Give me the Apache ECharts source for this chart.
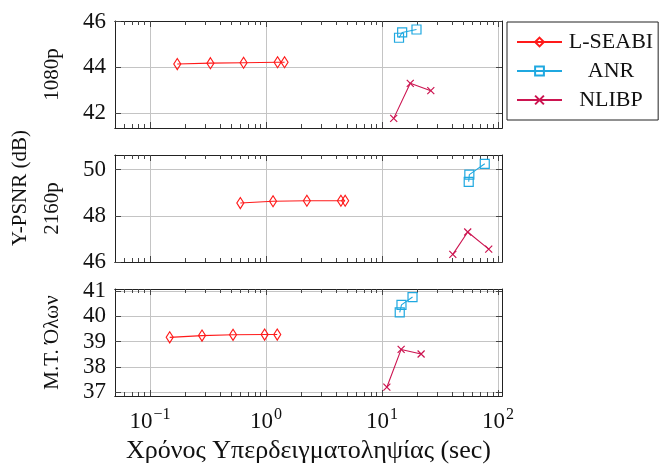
<!DOCTYPE html>
<html><head><meta charset="utf-8">
<script src="https://cdn.jsdelivr.net/npm/echarts@6/dist/echarts.min.js"></script>
<style>html,body{margin:0;padding:0;background:#fff}#c{width:659px;height:472px}</style>
</head><body><div id="c"></div>
<script>
// ---- data (time in sec, Y-PSNR in dB) ----
const seriesNames = ['L-SEABI', 'ANR', 'NLIBP'];
const panelNames = ['1080p', '2160p', 'M.T. Όλων'];

const seabi1080 = [[0.172, 44.14], [0.332, 44.18], [0.641, 44.20], [1.258, 44.22], [1.445, 44.22]];
const anr1080   = [[14.0, 45.29], [14.9, 45.52], [19.8, 45.65]];
const nlibp1080 = [[12.6, 41.77], [17.5, 43.30], [26.3, 42.98]];

const seabi2160 = [[0.601, 48.55], [1.15, 48.63], [2.25, 48.65], [4.42, 48.65], [4.81, 48.65]];
const anr2160   = [[55.8, 49.47], [56.5, 49.78], [76.7, 50.25]];
const nlibp2160 = [[40.7, 46.33], [54.7, 47.30], [83.0, 46.56]];

const seabiAll = [[0.148, 39.17], [0.281, 39.24], [0.520, 39.27], [0.973, 39.28], [1.25, 39.28]];
const anrAll   = [[14.2, 40.16], [14.7, 40.46], [18.3, 40.77]];
const nlibpAll = [[11.0, 37.19], [14.6, 38.69], [21.7, 38.51]];

const xMajorTicks = [0.1, 1, 10, 100];
const xMinorTicks = [0.06, 0.07, 0.08, 0.09, 0.2, 0.3, 0.4, 0.5, 0.6, 0.7, 0.8, 0.9,
                     2, 3, 4, 5, 6, 7, 8, 9, 20, 30, 40, 50, 60, 70, 80, 90];
const yTicks = [[42, 44, 46], [46, 48, 50], [37, 38, 39, 40, 41]];
const yRanges = [[41.35, 46.02], [46.0, 50.63], [36.84, 41.09]];
const yStep = [2, 2, 1];
const xRange = [0.05, 108];

// ---- layout / style ----
const FONT = 'Liberation Serif';
const colors = ['#ff1a1a', '#1fa8e0', '#cc1450'];
const gridTops = [21, 155, 289];
const gridH = 107;
const panelData = [[seabi1080, anr1080, nlibp1080], [seabi2160, anr2160, nlibp2160], [seabiAll, anrAll, nlibpAll]];

const grids = [], xAxes = [], yAxes = [], series = [];
const axisLine = {show: true, onZero: false, lineStyle: {color: '#222', width: 1}};
const tickStyle = {color: '#444', width: 1};

function supLabel(v) {
  const e = Math.round(Math.log10(v));
  return '{b|10}{s|' + (e < 0 ? '−' + (-e) : String(e)) + '}';
}

function xAxisDef(p, pos, ticks, len, main) {
  return {
    type: 'log', logBase: 10, gridIndex: p, position: pos,
    min: xRange[0], max: xRange[1],
    axisLine: axisLine,
    axisTick: {show: true, inside: true, length: len, customValues: ticks, lineStyle: tickStyle},
    axisLabel: (main && p === 2) ? {
      show: true, customValues: xMajorTicks, formatter: supLabel, margin: 11,
      rich: {b: {fontFamily: FONT, fontSize: 23, color: '#111', verticalAlign: 'bottom'},
             s: {fontFamily: FONT, fontSize: 16, color: '#111', verticalAlign: 'bottom', padding: [0, 0, 10, 1]}}
    } : {show: false},
    splitLine: {show: !!main, lineStyle: {color: '#c4c4c4', width: 1}},
    name: (main && p === 2) ? 'Χρόνος Υπερδειγματοληψίας (sec)' : '',
    nameLocation: 'middle', nameGap: 42,
    nameTextStyle: {fontFamily: FONT, fontSize: 26, color: '#111'}
  };
}

for (let p = 0; p < 3; p++) {
  grids.push({left: 115, right: 157, top: gridTops[p], height: gridH});
  xAxes.push(xAxisDef(p, 'bottom', xMajorTicks, 6, true));
  xAxes.push(xAxisDef(p, 'bottom', xMinorTicks, 4, false));
  xAxes.push(xAxisDef(p, 'top', xMajorTicks, 6, false));
  xAxes.push(xAxisDef(p, 'top', xMinorTicks, 4, false));
  // left y
  yAxes.push({
    type: 'value', gridIndex: p, position: 'left',
    min: yRanges[p][0], max: yRanges[p][1],
    minInterval: yStep[p], maxInterval: yStep[p],
    axisLine: axisLine,
    axisTick: {show: true, inside: true, length: 6, customValues: yTicks[p], lineStyle: tickStyle},
    axisLabel: {show: true, customValues: yTicks[p], margin: 9, fontFamily: FONT, fontSize: 23, color: '#111'},
    splitLine: {show: true, lineStyle: {color: '#c4c4c4', width: 1}},
    name: panelNames[p], nameLocation: 'middle', nameGap: 52, nameRotate: 90,
    nameTextStyle: {fontFamily: FONT, fontSize: 21, color: '#111'}
  });
  // right y
  yAxes.push({
    type: 'value', gridIndex: p, position: 'right',
    min: yRanges[p][0], max: yRanges[p][1],
    minInterval: yStep[p], maxInterval: yStep[p],
    axisLine: axisLine,
    axisTick: {show: true, inside: true, length: 6, customValues: yTicks[p], lineStyle: tickStyle},
    axisLabel: {show: false}, splitLine: {show: false}
  });

  const symbols = ['diamond', 'rect', 'path://M0,0L10,10M10,0L0,10'];
  const sizes = [[7, 11], 9, 7];
  for (let s = 0; s < 3; s++) {
    series.push({
      type: 'line', name: seriesNames[s],
      xAxisIndex: p * 4, yAxisIndex: p * 2,
      data: panelData[p][s],
      symbol: symbols[s], symbolSize: sizes[s], showSymbol: true,
      lineStyle: {color: colors[s], width: 1.1},
      itemStyle: {color: 'none', borderColor: colors[s], borderWidth: 1.2},
      emphasis: {disabled: true},
      animation: false, z: 3
    });
  }
}

const chart = echarts.init(document.getElementById('c'), null, {renderer: 'canvas'});
chart.setOption({
  animation: false,
  backgroundColor: '#fff',
  grid: grids, xAxis: xAxes, yAxis: yAxes, series: series,
  legend: {
    orient: 'vertical', left: 507, top: 22,
    data: seriesNames,
    itemWidth: 45, itemHeight: 11, itemGap: 7,
    padding: [9, 5, 9, 9],
    borderColor: '#222', borderWidth: 1,
    selectedMode: false,
    formatter: n => '{c|' + n + '}',
    textStyle: {fontFamily: FONT, fontSize: 22, color: '#111',
      rich: {c: {fontFamily: FONT, fontSize: 22, width: 88, align: 'center'}}}
  },
  graphic: [{
    type: 'text', left: 10, top: 130, rotation: Math.PI / 2,
    style: {text: 'Y-PSNR (dB)', font: '21px "Liberation Serif"', fill: '#111'}
  }]
});
</script></body></html>
